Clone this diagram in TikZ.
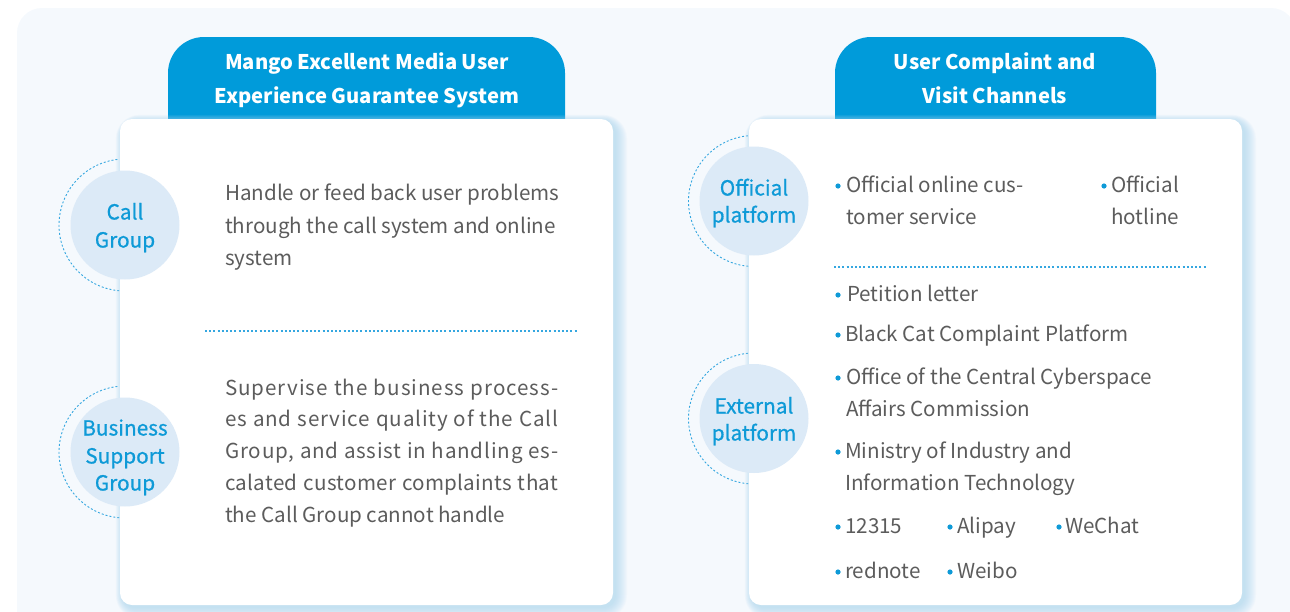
\documentclass[tikz,border=0pt]{standalone}
\usepackage{fontspec}
\setmainfont{Noto Sans CJK SC}
\newfontfamily\labfont[FakeBold=0.7]{Noto Sans CJK SC}
\definecolor{panelc}{HTML}{F5F9FD}
\definecolor{headc}{HTML}{009BDA}
\definecolor{circc}{HTML}{DCEAF7}
\definecolor{labc}{HTML}{0E9AD7}
\definecolor{dashc}{HTML}{35A7E0}
\definecolor{bodyc}{HTML}{5C5C5C}
\definecolor{glowc}{HTML}{A9D6F0}
\newcommand{\jline}[2]{{\addfontfeatures{LetterSpace=#1}\makebox[333pt][s]{#2}}}
\begin{document}
\begin{tikzpicture}[x=1pt,y=-1pt,
  body/.style={anchor=base west,inner sep=0pt,text=bodyc,font=\fontsize{20.6}{32}\selectfont},
  headtxt/.style={anchor=base,inner sep=0pt,text=white,font=\fontsize{20.2}{32}\selectfont\bfseries},
  labtxt/.style={anchor=base,inner sep=0pt,text=labc,font=\labfont\fontsize{20.8}{28}\selectfont},
  circ/.style={circle,fill=circc,minimum size=109pt,inner sep=0pt},
  dasharc/.style={draw=dashc,line width=0.9pt,dash pattern=on 2pt off 2pt},
  sepline/.style={draw=dashc,line width=1.1pt,dash pattern=on 2pt off 2.2pt},
  bul/.style={fill=labc}]
\useasboundingbox (0,0) rectangle (1290,611);
\clip (0,0) rectangle (1290,611);
% background panel
\fill[panelc,rounded corners=25pt] (17,8) rectangle (1296,650);
% ---------- left column ----------
\fill[headc,rounded corners=36pt] (168,37) rectangle (565,170);
\draw[dasharc] (125,225) ++(95:66) arc[start angle=95,end angle=265,radius=66];
\draw[dasharc] (125,452) ++(95:66) arc[start angle=95,end angle=265,radius=66];
\foreach \i in {1,...,12}{
  \fill[glowc,opacity=0.07,rounded corners=12pt+\i pt] (120-\i*0.6+3,119-\i*0.6+3) rectangle (613+\i+2,605+\i+2);}
\fill[white,rounded corners=12pt] (120,119) rectangle (613,605);
\node[circ] (cg) at (125,225) {};
\node[circ] (bsg) at (125,452) {};
\node[headtxt] (lh1) at (367,69) {Mango Excellent Media User};
\node[headtxt] (lh2) at (367,103) {Experience Guarantee System};
\node[labtxt] (cg1) at (125,219.5) {Call};
\node[labtxt] (cg2) at (125,247.5) {Group};
\node[labtxt] (bs1) at (125,435.5) {Business};
\node[labtxt] (bs2) at (125,463.5) {Support};
\node[labtxt] (bs3) at (125,490.5) {Group};
\node[body] (la1) at (225,200.5) {Handle or feed back user problems};
\node[body] (la2) at (225,233) {through the call system and online};
\node[body] (la3) at (225,265.5) {system};
\coordinate (ls1) at (205,331);
\coordinate (ls2) at (578,331);
\draw[sepline] (ls1) -- (ls2);
\node[body] (lb1) at (225,395.5) {\jline{4.5}{Supervise the business process-}};
\node[body] (lb2) at (225,426.5) {\jline{4}{es and service quality of the Call}};
\node[body] (lb3) at (225,458.5) {\jline{4}{Group, and assist in handling es-}};
\node[body] (lb4) at (225,490.5) {\jline{1.5}{calated customer complaints that}};
\node[body] (lb5) at (225,522.5) {the Call Group cannot handle};
% ---------- right column ----------
\fill[headc,rounded corners=36pt] (835,37) rectangle (1156,170);
\draw[dasharc] (754,201) ++(95:65.5) arc[start angle=95,end angle=265,radius=65.5];
\draw[dasharc] (754,418.5) ++(95:65.5) arc[start angle=95,end angle=265,radius=65.5];
\foreach \i in {1,...,12}{
  \fill[glowc,opacity=0.07,rounded corners=12pt+\i pt] (749-\i*0.6+3,119-\i*0.6+3) rectangle (1242+\i+2,605+\i+2);}
\fill[white,rounded corners=12pt] (749,119) rectangle (1242,605);
\node[circ] (op) at (754,201) {};
\node[circ] (ep) at (754,418.5) {};
\node[headtxt] (rh1) at (995,69) {User Complaint and};
\node[headtxt] (rh2) at (995,103) {Visit Channels};
\node[labtxt] (op1) at (754,195.5) {Official};
\node[labtxt] (op2) at (754,222.5) {platform};
\node[labtxt] (ep1) at (754,413.5) {External};
\node[labtxt] (ep2) at (754,440.5) {platform};
% bullets
\foreach \bx/\by in {838/186,1104/186,838/295,838/335,838/378,838/452,838/527,950/527,1059/527,838/572,950/572}{
  \fill[bul] (\bx,\by) circle (2.6pt);}
\node[body] (r1a) at (846,192.5) {Official online cus-};
\node[body] (r1b) at (846,224.5) {tomer service};
\node[body] (r2a) at (1111,192.5) {Official};
\node[body] (r2b) at (1111,224.5) {hotline};
\coordinate (rs1) at (834,267);
\coordinate (rs2) at (1207,267);
\draw[sepline] (rs1) -- (rs2);
\node[body] (r3) at (847,301.5) {Petition letter};
\node[body] (r4) at (845,341.5) {Black Cat Complaint Platform};
\node[body] (r5a) at (846,384.5) {Office of the Central Cyberspace};
\node[body] (r5b) at (846,416.5) {Affairs Commission};
\node[body] (r6a) at (845,458.5) {Ministry of Industry and};
\node[body] (r6b) at (845,490.5) {Information Technology};
\node[body] (r7) at (845,533.5) {12315};
\node[body] (r8) at (957,533.5) {Alipay};
\node[body] (r9) at (1065,533.5) {WeChat};
\node[body] (r10) at (845,578.5) {rednote};
\node[body] (r11) at (957,578.5) {Weibo};
\end{tikzpicture}
\end{document}
